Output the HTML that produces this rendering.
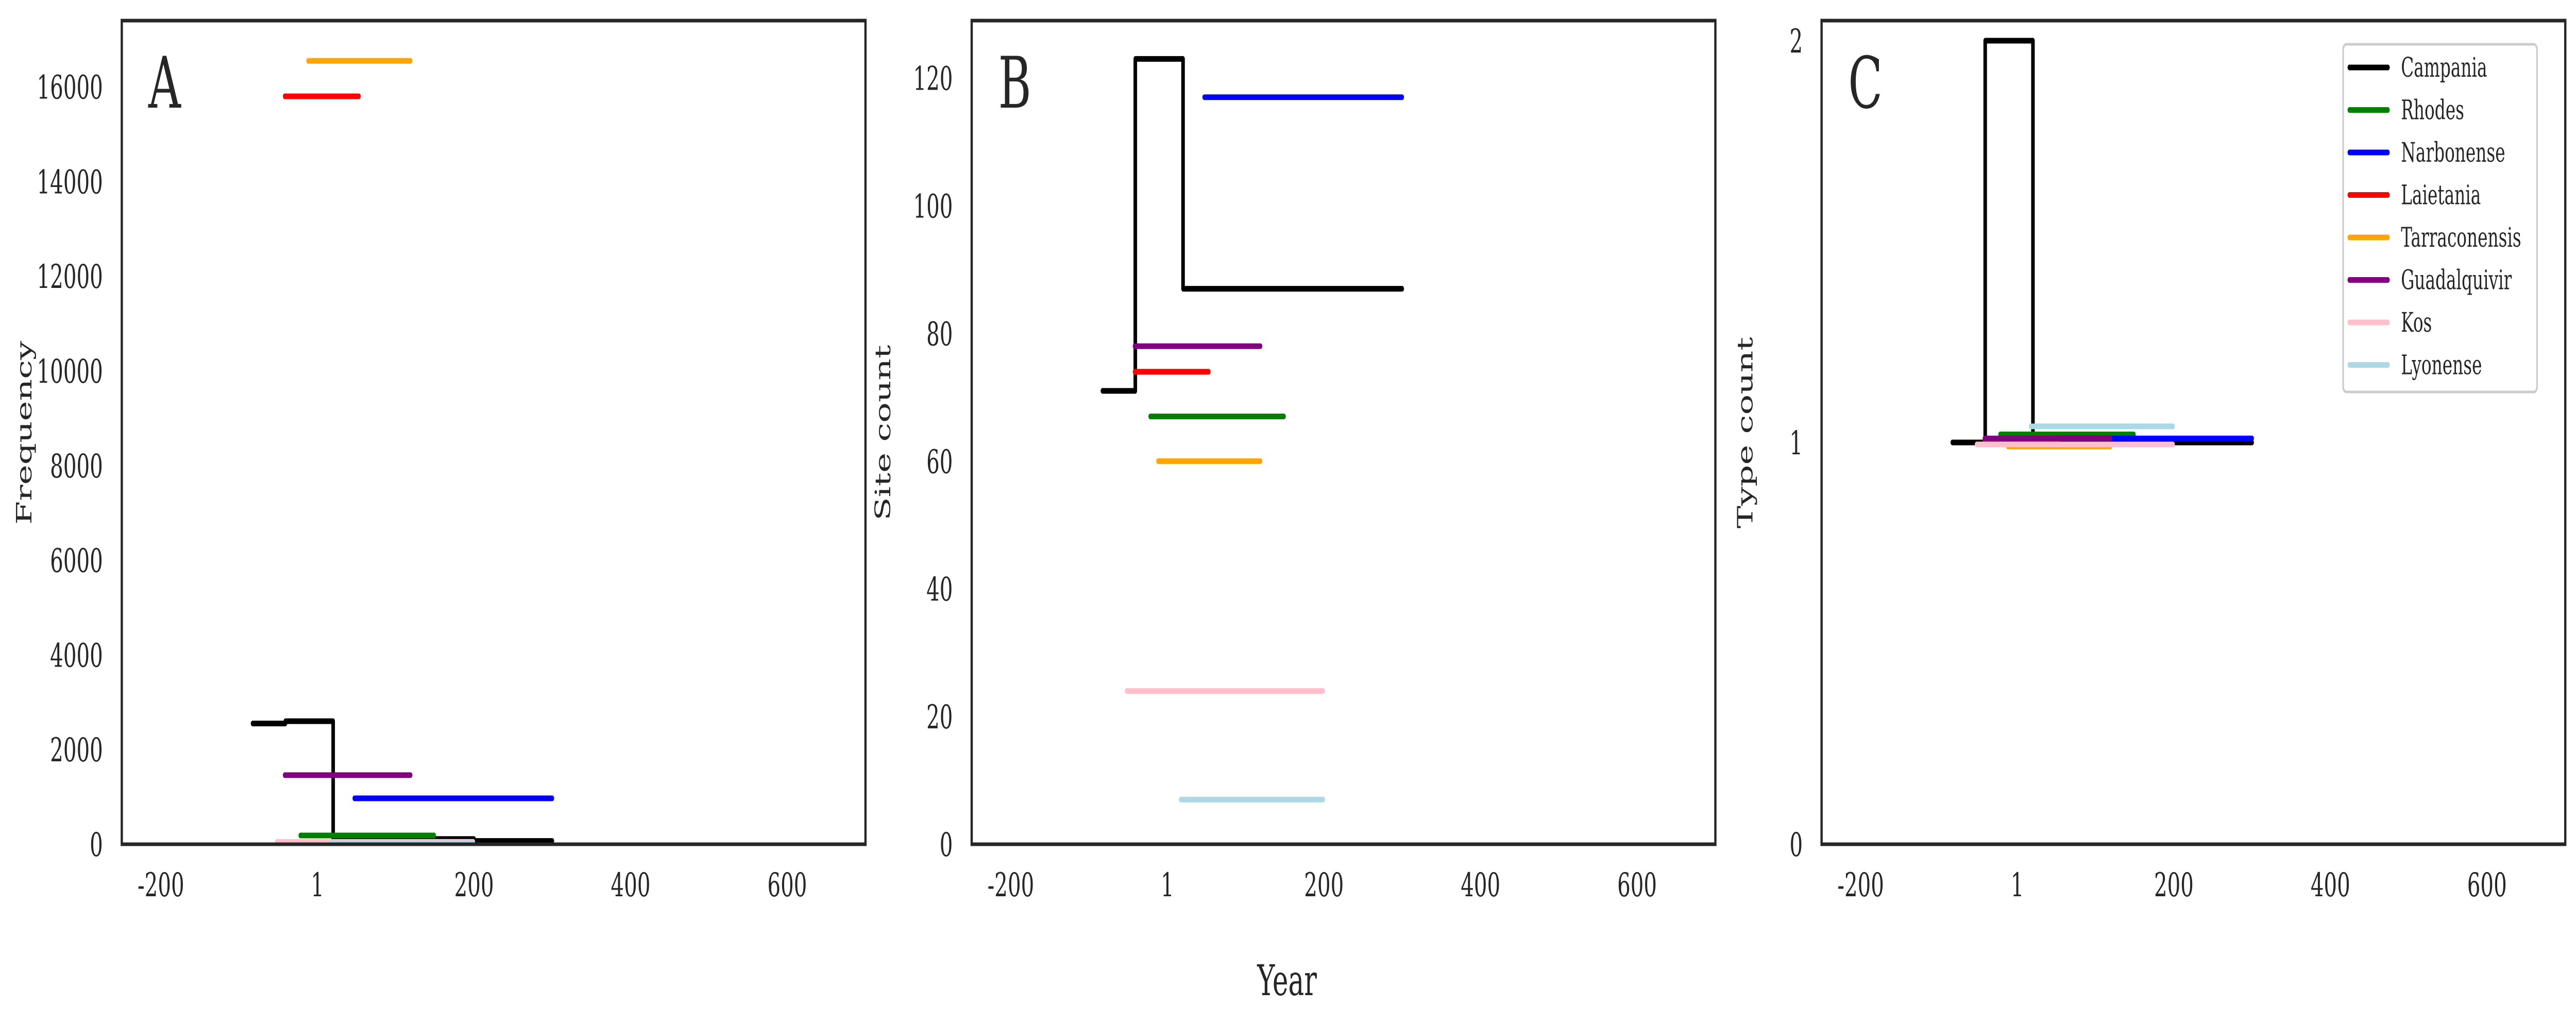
<!DOCTYPE html>
<html><head><meta charset="utf-8"><meta name="viewport" content="width=7932, initial-scale=1"><style>
html,body{margin:0;padding:0;background:#fff;width:100vw;height:100vh;overflow:hidden;}
svg{display:block;width:100vw;height:100vh;font-family:"DejaVu Serif","Liberation Serif",serif;}
</style></head><body>
<svg id="chart" viewBox="0 0 7932 1988" preserveAspectRatio="none" xmlns="http://www.w3.org/2000/svg"></svg>
<script>
// ---- data ----
const seriesNames = ["Campania","Rhodes","Narbonense","Laietania","Tarraconensis","Guadalquivir","Kos","Lyonense"];
const seriesColors = ["#000000","#008000","#0000ff","#ff0000","#ffa500","#800080","#ffc0cb","#add8e6"];
const xTicks = [-200,0,200,400,600];
const xTickLabels = ["-200","1","200","400","600"];
// Campania step series: breakpoints and values per panel
const campStepsX = [-83,-41,20,200,300];
const campFreq = [2550,2600,110,70];
const campSites = [71,123,87,87];
const campTypes = [1,2,1,1];
// other series: start, end (years) in order Rhodes..Lyonense
const segStart = [-22,47,-42,-12,-42,-52,17];
const segEnd = [149,300,53,119,119,199,199];
const freqVals = [185,970,15800,16550,1460,50,20];
const siteVals = [67,117,74,60,78,24,7];
const typeVals = [1.02,1.01,1.0,0.99,1.01,0.995,1.04];
const yTicksA = [0,2000,4000,6000,8000,10000,12000,14000,16000];
const yTicksB = [0,20,40,60,80,100,120];
const yTicksC = [0,1,2];

const NS="http://www.w3.org/2000/svg";
const svg=document.getElementById('chart');
function mk(tag,attrs,parent){const e=document.createElementNS(NS,tag);for(const k in attrs)e.setAttribute(k,attrs[k]);(parent||svg).appendChild(e);return e;}

const panels=[
 {left:375,letter:"A",ylab:"Frequency",ymax:17400,yticks:yTicksA,camp:campFreq,vals:freqVals,labX:75},
 {left:2992,letter:"B",ylab:"Site count",ymax:129,yticks:yTicksB,camp:campSites,vals:siteVals,labX:2720},
 {left:5609,letter:"C",ylab:"Type count",ymax:2.05,yticks:yTicksC,camp:campTypes,vals:typeVals,labX:5375}
];
const W=2290, TOP=40, BOT=1639, XMIN=-250, XMAX=700;

panels.forEach((p,pi)=>{
  const g=mk('g',{});
  
  
  const sx=v=>p.left+(v-XMIN)/(XMAX-XMIN)*W;
  const sy=v=>BOT-(v/p.ymax)*(BOT-TOP);
  const sg=mk('g',{},g);
  
  
  let d="";
  for(let i=0;i<p.camp.length;i++){
    const x0=sx(campStepsX[i]),x1=sx(campStepsX[i+1]),y=sy(p.camp[i]);
    d+=(i===0?"M":"L")+x0+","+y+" L"+x1+","+y+" ";
  }
  const cp=mk('path',{d:d,fill:"none",stroke:seriesColors[0],"stroke-width":11,"stroke-linecap":"round","stroke-linejoin":"round"},sg);
  
  
  for(let i=0;i<segStart.length;i++){
    const ln=mk('line',{x1:sx(segStart[i]),x2:sx(segEnd[i]),y1:sy(p.vals[i]),y2:sy(p.vals[i]),stroke:seriesColors[i+1],"stroke-width":11,"stroke-linecap":"round"},sg);
    
    
  }
  const fr=mk('rect',{x:p.left,y:TOP,width:W,height:BOT-TOP,fill:"none",stroke:"#262626","stroke-width":7},g);
  
  
  xTicks.forEach((t,i)=>{
    const tx=mk('text',{x:sx(t),y:1740,"font-size":64,"text-anchor":"middle",fill:"#262626"},g);
    tx.textContent=xTickLabels[i];
    
    
  });
  p.yticks.forEach(t=>{
    const ty=mk('text',{x:p.left-58,y:sy(t)+23,"font-size":64,"text-anchor":"end",fill:"#262626"},g);
    ty.textContent=String(t);
    
    
  });
  const yl=mk('text',{x:p.labX,y:840,"font-size":66,"text-anchor":"middle",fill:"#262626",transform:"rotate(-90 "+p.labX+" 840)","dominant-baseline":"central"},g);
  yl.textContent=p.ylab;
  
  
  const lt=mk('text',{x:p.left+82,y:209,"font-size":138,fill:"#262626"},g);
  lt.textContent=p.letter;
  
  
});

const xl=mk('text',{x:3963,y:1932,"font-size":82,"text-anchor":"middle",fill:"#262626"});
xl.textContent="Year";



const lg=mk('g',{});


const lb=mk('rect',{x:7215,y:86,width:597,height:675,rx:10,fill:"#fff",stroke:"#cccccc","stroke-width":5},lg);


seriesNames.forEach((n,i)=>{
  const y=131+i*82.5;
  const e=mk('g',{},lg);
  
  
  mk('line',{x1:7234,x2:7353,y1:y,y2:y,stroke:seriesColors[i],"stroke-width":11,"stroke-linecap":"round"},e);
  const t=mk('text',{x:7393,y:y+18,"font-size":52,fill:"#262626"},e);
  t.textContent=n;
});
</script>
</body></html>
